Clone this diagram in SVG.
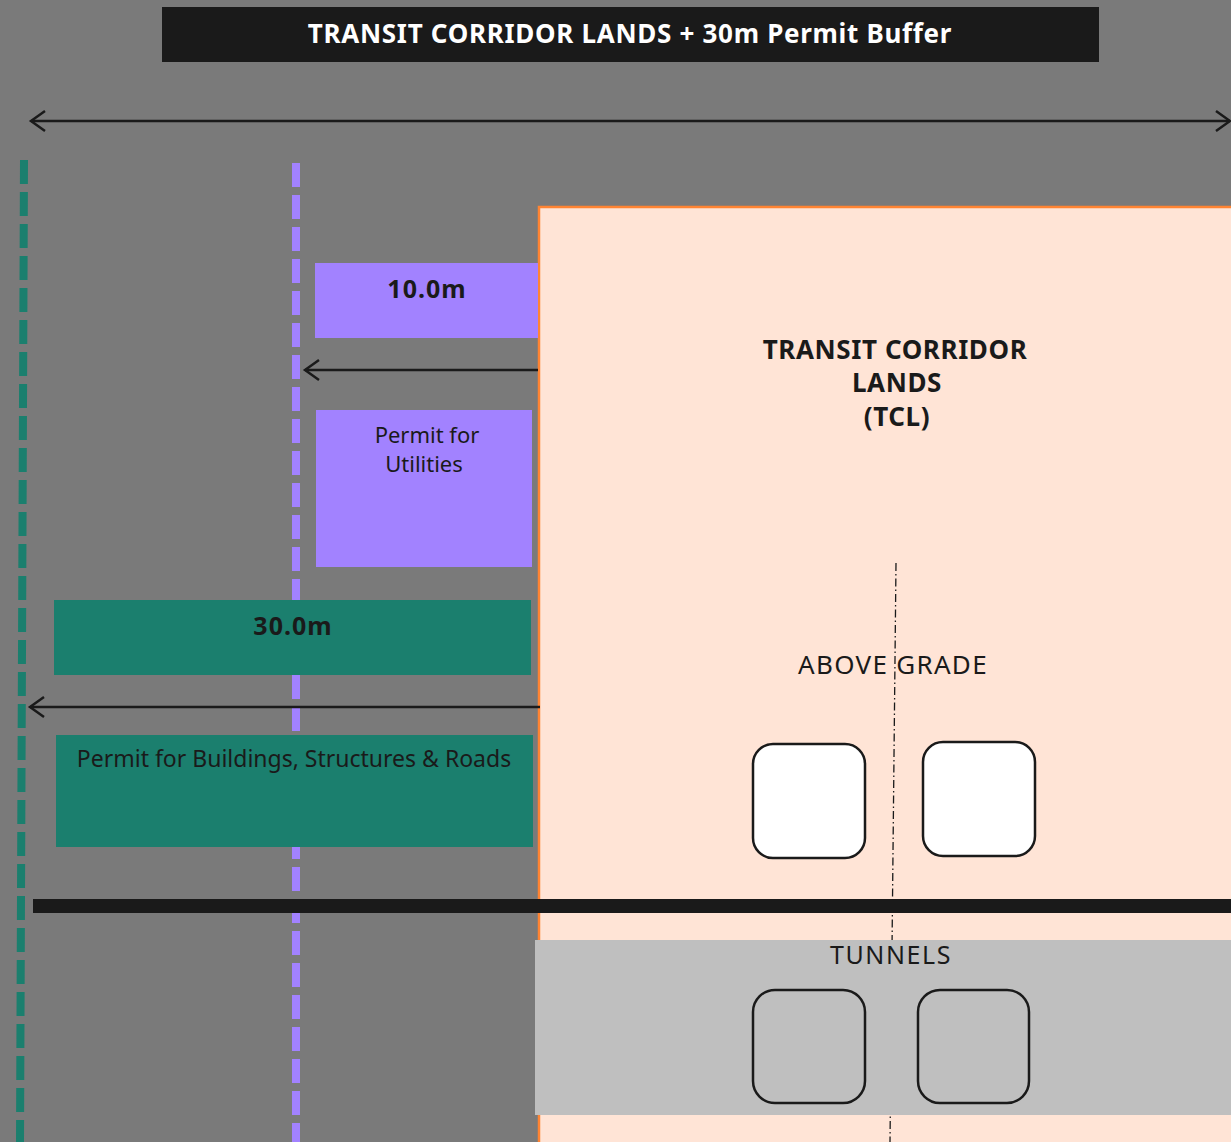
<svg xmlns="http://www.w3.org/2000/svg" width="1231" height="1142" viewBox="0 0 1231 1142">
<style>
.t{font-family:"Noto Sans","Liberation Sans",sans-serif;fill:#1a1a1a;text-anchor:middle}
.b{font-weight:700}
.l{font-weight:400}
.arr{stroke:#1a1a1a;stroke-width:2.5;fill:none}
.cell{stroke:#1a1a1a;stroke-width:2.5}
</style>
<defs>
<marker id="ah" viewBox="0 0 20 24" refX="17" refY="12" markerWidth="20" markerHeight="24" markerUnits="userSpaceOnUse" orient="auto-start-reverse">
<path d="M3 2 L17 12 L3 22" fill="none" stroke="#1a1a1a" stroke-width="2.5"/>
</marker>
</defs>
<rect x="0" y="0" width="1231" height="1142" fill="#7a7a7a"/>
<g id="title">
<rect x="162" y="7" width="937" height="55" fill="#1a1a1a"/>
<text class="t b" x="630" y="43" font-size="26" letter-spacing="0.7" style="fill:#ffffff">TRANSIT CORRIDOR LANDS + 30m Permit Buffer</text>
</g>
<g id="buffer-lines">
<line x1="24" y1="160" x2="20" y2="1142" stroke="#1b7f6e" stroke-width="8" stroke-dasharray="24 8"/>
<line x1="296" y1="163" x2="296" y2="1142" stroke="#a282ff" stroke-width="8" stroke-dasharray="24 8"/>
</g>
<g id="tcl">
<rect x="539" y="207" width="700" height="945" fill="#ffe4d6" stroke="#ff8433" stroke-width="2.5"/>
<text class="t b" font-size="26" letter-spacing="0.6" x="895" y="359">TRANSIT CORRIDOR</text>
<text class="t b" font-size="26" letter-spacing="0.6" x="897" y="392">LANDS</text>
<text class="t b" font-size="26" letter-spacing="0.6" x="897" y="426">(TCL)</text>
</g>
<g id="centerline">
<line x1="896" y1="563" x2="890" y2="1142" stroke="#1a1a1a" stroke-width="1.3" stroke-dasharray="8 3 1.5 3"/>
</g>
<g id="above-grade">
<text class="t l" font-size="26" letter-spacing="1.3" x="893" y="674">ABOVE GRADE</text>
<rect class="cell" x="753" y="744" width="112" height="114" rx="20" fill="#ffffff"/>
<rect class="cell" x="923" y="742" width="112" height="114" rx="20" fill="#ffffff"/>
</g>
<g id="grade-line">
<rect x="33" y="899" width="1198" height="14" fill="#1a1a1a"/>
</g>
<g id="tunnels">
<rect x="535" y="940" width="696" height="175" fill="#bfbfbf"/>
<text class="t l" font-size="25" letter-spacing="1.6" x="891" y="964">TUNNELS</text>
<rect class="cell" x="753" y="990" width="112" height="113" rx="22" fill="none"/>
<rect class="cell" x="918" y="990" width="111" height="113" rx="22" fill="none"/>
</g>
<g id="box-10m">
<rect x="315" y="263" width="223" height="75" fill="#a282ff"/>
<text class="t b" font-size="25" letter-spacing="1" x="427" y="298">10.0m</text>
</g>
<g id="box-utilities">
<rect x="316" y="410" width="216" height="157" fill="#a282ff"/>
<text class="t l" font-size="22" x="427" y="443">Permit for</text>
<text class="t l" font-size="22" x="424" y="472">Utilities</text>
</g>
<g id="box-30m">
<rect x="54" y="600" width="477" height="75" fill="#1b7f6e"/>
<text class="t b" font-size="25" letter-spacing="1" x="293" y="635">30.0m</text>
</g>
<g id="box-buildings">
<rect x="56" y="735" width="477" height="112" fill="#1b7f6e"/>
<text class="t l" font-size="23" x="294" y="767">Permit for Buildings, Structures &amp; Roads</text>
</g>
<g id="connectors">
<line class="arr" x1="31" y1="121" x2="1230" y2="121" marker-start="url(#ah)" marker-end="url(#ah)"/>
<line class="arr" x1="538" y1="370" x2="305" y2="370" marker-end="url(#ah)"/>
<line class="arr" x1="540" y1="707" x2="30" y2="707" marker-end="url(#ah)"/>
</g>
</svg>
